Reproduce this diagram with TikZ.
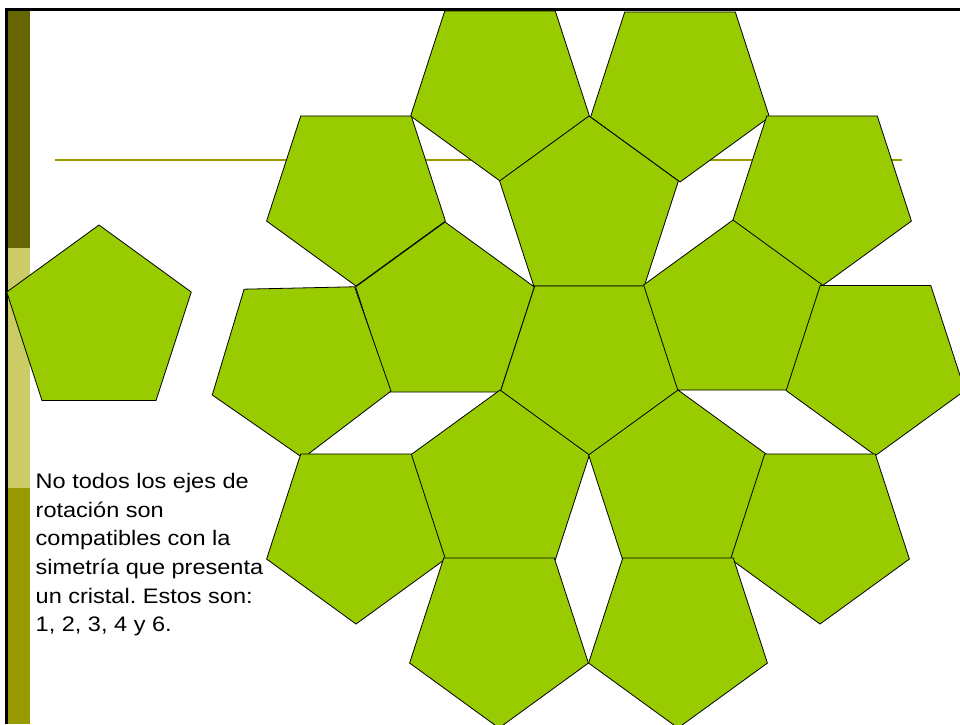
\documentclass[tikz,border=0pt]{standalone}
\usepackage{fontspec}
\setmainfont{Liberation Sans}
\newfontfamily\notefont[FakeStretch=1.12]{Liberation Sans}
\usetikzlibrary{shapes.geometric}
\definecolor{leafgreen}{HTML}{99CC00}
\definecolor{olivedark}{HTML}{666600}
\definecolor{olivelight}{HTML}{CCCC66}
\definecolor{olivemid}{HTML}{999900}
\frenchspacing

\begin{document}
\begin{tikzpicture}[
    x=1pt, y=-1pt,
    pent/.style={regular polygon, regular polygon sides=5, minimum size=188pt, inner sep=0pt, outer sep=0pt, draw=black, fill=leafgreen, line width=0.8pt},
    pentdown/.style={pent, regular polygon rotate=180},
    note/.style={anchor=north west, inner sep=0pt, align=left, font=\notefont\fontsize{21}{28.7}\selectfont}
]
\clip (0,0) rectangle (960,724);
\fill[white] (0,0) rectangle (960,724);

% Slide frame
\fill[olivedark] (8,10) rectangle (30,248);
\fill[olivelight] (8,248) rectangle (30,488);
\fill[olivemid] (8,488) rectangle (30,724);
\draw[line width=2.5pt] (6.5,724) -- (6.5,9.5) -- (960,9.5);
\draw[olivemid, line width=2pt] (55,160) -- (902,160);

% Lone pentagon
\node[pent, minimum size=194pt] (lone) at (99,322) {};

% Cluster, top rows
\node[pentdown] (top_l) at (500,87) {};
\node[pentdown] (top_r) at (680,88) {};
\node[pent] (upper) at (589,210) {};
\node[pentdown] (side_ul) at (356,192) {};
\node[pentdown] (side_ur) at (822,192) {};

% Cluster, middle row
\node[pent] (mid_l) at (445,316) {};
\node[pentdown] (centre) at (590,362) {};
\node[pent] (mid_r) at (733,314) {};
\node[pentdown, regular polygon rotate=181.25] (far_l) at (301,364) {};
\node[pentdown] (far_r) at (875.5,361.5) {};

% Cluster, lower rows
\node[pent] (low_l) at (500,484) {};
\node[pent] (low_r) at (678,484) {};
\node[pentdown] (side_ll) at (356,530) {};
\node[pentdown] (side_lr) at (820,530) {};
\node[pentdown] (bottom_l) at (499,634) {};
\node[pentdown] (bottom_r) at (678,634) {};

% Caption
\node[note] (caption) at (35.5,473) {No todos los ejes de\\rotación son\\compatibles con la\\simetría que presenta\\un cristal. Estos son:\\1, 2, 3, 4 y 6.};

\end{tikzpicture}
\end{document}
